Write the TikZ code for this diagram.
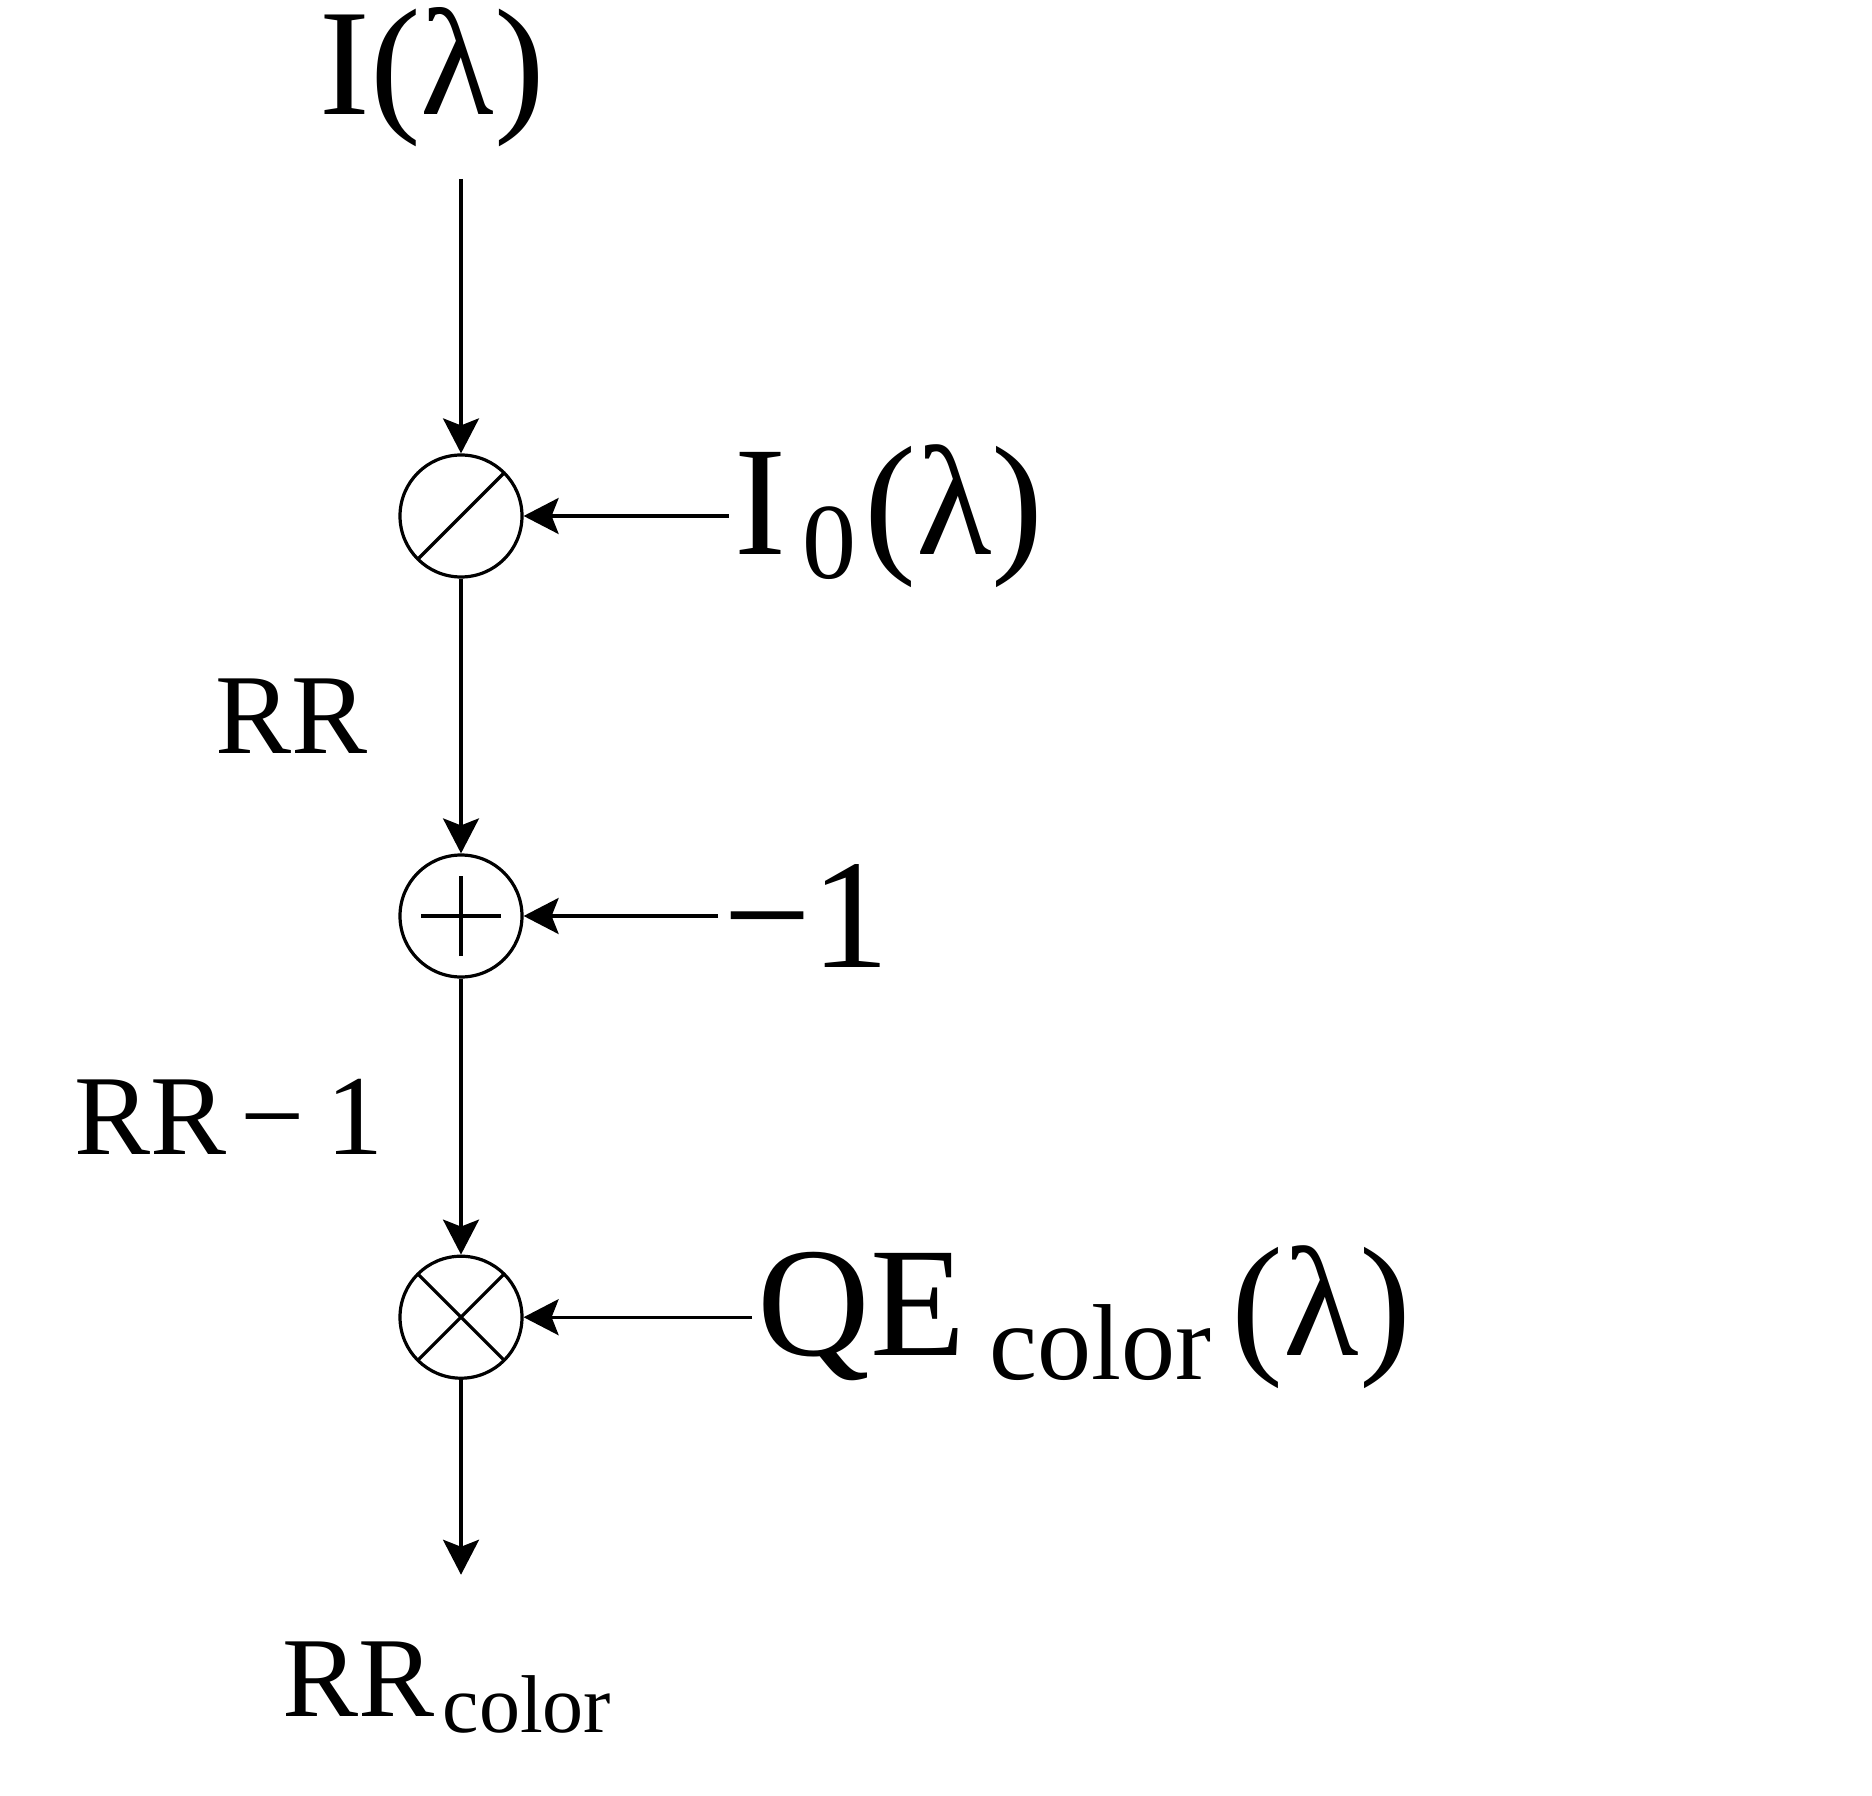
\documentclass[tikz,border=0pt]{standalone}
\usepackage{fontspec}
\setmainfont{Liberation Serif}
\usetikzlibrary{positioning,arrows.meta}
\tikzset{
  opnode/.style={circle, draw, minimum size=30.5pt, inner sep=0pt},
  opnode div/.style={opnode, path picture={
    \draw (path picture bounding box.south west) -- (path picture bounding box.north east);}},
  opnode add/.style={opnode, path picture={
    \draw ([xshift=-10pt]path picture bounding box.center) -- ([xshift=10pt]path picture bounding box.center)
          ([yshift=-10pt]path picture bounding box.center) -- ([yshift=10pt]path picture bounding box.center);}},
  opnode mul/.style={opnode, path picture={
    \draw (path picture bounding box.south west) -- (path picture bounding box.north east)
          (path picture bounding box.north west) -- (path picture bounding box.south east);}},
  bigtext/.style={font=\fontsize{39}{40}\selectfont, inner sep=1pt},
  smalltext/.style={font=\fontsize{28.5}{30}\selectfont, inner sep=0pt}}
\newcommand{\lowsub}[1]{\raisebox{-6pt}{\fontsize{27}{28}\selectfont #1}}
\newcommand{\lowersub}[1]{\raisebox{-4pt}{\fontsize{20.5}{21}\selectfont #1}}

\begin{document}
\begin{tikzpicture}[x=0.25pt, y=-0.25pt, line width=0.8pt,
    >={Stealth[length=8.75pt, width=9pt, inset=1.75pt]}]
  \useasboundingbox (0,0) rectangle (1872,1796);
  \node[opnode div] (op_1) at (461,516)          {};
  \node[opnode add] (op_2) [below=68.7pt of op_1] {};
  \node[opnode mul] (op_3) [below=69pt of op_2]   {};
  \node[bigtext] (in_1) [right=51.3pt of op_1] {I\hspace{4pt}\lowsub{0}\hspace{2pt}(λ)};
  \node[bigtext] (in_2) [right=48.6pt of op_2] {−1};
  \node[bigtext] (in_3) [right=57.1pt of op_3] {QE\hspace{6pt}\lowsub{color}\hspace{5pt}(λ)};
  \node[font=\fontsize{38}{40}\selectfont, inner sep=0pt, anchor=base west] (src) at (318,115) {I(λ)};
  \node[smalltext, anchor=base west] (out) at (281,1716) {RR\hspace{2pt}\lowersub{color}};
  \path[->]
    (src.south -| op_1) edge[shorten <=7.5pt] (op_1)
    (op_1) edge node[smalltext, left=23pt] {RR} (op_2)
    (op_2) edge node[smalltext, left=19pt] {RR\hspace{3.5pt}−\hspace{5.5pt}1} (op_3)
    (op_3) edge[shorten >=16.25pt] (op_3 |- out.north)
    (in_1) edge (op_1)
    (in_2) edge (op_2)
    (in_3) edge (op_3);
\end{tikzpicture}
\end{document}
